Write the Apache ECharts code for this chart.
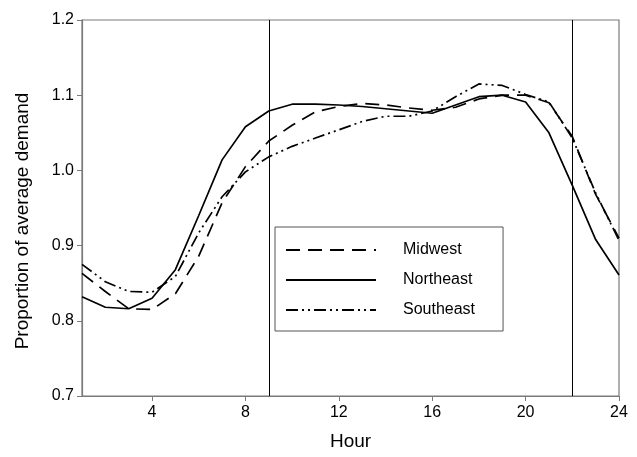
<!DOCTYPE html>
<html><head><meta charset="utf-8">
<script src="https://cdn.jsdelivr.net/npm/echarts@6/dist/echarts.min.js"></script>
<style>html,body{margin:0;padding:0;background:#fff}#c{width:637px;height:457px}</style>
</head><body><div id="c"></div>
<script>
const hours = [1,2,3,4,5,6,7,8,9,10,11,12,13,14,15,16,17,18,19,20,21,22,23,24];
const midwest = [0.863,0.839,0.816,0.815,0.836,0.886,0.957,1.005,1.039,1.060,1.078,1.085,1.089,1.087,1.083,1.080,1.084,1.095,1.100,1.100,1.090,1.045,0.968,0.910];
const northeast = [0.832,0.818,0.816,0.830,0.868,0.940,1.014,1.058,1.079,1.088,1.088,1.087,1.085,1.082,1.079,1.076,1.087,1.098,1.100,1.091,1.050,0.980,0.908,0.861];
const southeast = [0.875,0.852,0.839,0.838,0.859,0.917,0.965,0.998,1.018,1.032,1.043,1.054,1.065,1.072,1.072,1.079,1.098,1.115,1.113,1.101,1.091,1.043,0.970,0.907];
const xTicks = [4,8,12,16,20,24];
const dividers = [9,22];
const names = ['Midwest','Northeast','Southeast'];
const yTitle = 'Proportion of average demand';
const xTitle = 'Hour';

const pair = arr => hours.map((h,i)=>[h,arr[i]]);
const font = 'Liberation Sans, Arial, sans-serif';
const chart = echarts.init(document.getElementById('c'), null, {renderer:'canvas'});
chart.setOption({
  animation:false,
  backgroundColor:'#fff',
  grid:{left:82,right:18,top:20,bottom:61,show:true,borderColor:'#7a7a7a',borderWidth:1.2,
        containLabel:false,outerBoundsMode:'none'},
  legend:{
    data:names, orient:'vertical', left:275, top:227,
    padding:[15,28,13,10], itemGap:14, itemWidth:90, itemHeight:16,
    borderColor:'#555', borderWidth:1, backgroundColor:'#fff',
    itemStyle:{opacity:0},
    textStyle:{fontFamily:font,fontSize:16,color:'#000',padding:[0,0,0,22]}
  },
  graphic:[{type:'text',x:23,y:221,rotation:Math.PI/2,
    style:{text:yTitle,font:'19px '+font,fill:'#000',align:'center',verticalAlign:'middle'}}],
  xAxis:{
    type:'value', min:1, max:24, name:xTitle, nameLocation:'middle', nameGap:36,
    nameTextStyle:{fontFamily:font,fontSize:19,color:'#000'},
    axisLine:{lineStyle:{color:'#7a7a7a',width:1.2}},
    axisTick:{show:true,inside:false,length:5,customValues:xTicks,lineStyle:{color:'#7a7a7a'}},
    axisLabel:{customValues:xTicks,fontFamily:font,fontSize:16,color:'#000',margin:9},
    splitLine:{show:false}
  },
  yAxis:{
    type:'value', min:0.7, max:1.2, interval:0.1,
    axisLine:{show:true,lineStyle:{color:'#7a7a7a',width:1.2}},
    axisTick:{show:true,length:5,lineStyle:{color:'#7a7a7a'}},
    axisLabel:{fontFamily:font,fontSize:16,color:'#000',margin:8,formatter:v=>v.toFixed(1)},
    splitLine:{show:false}
  },
  series:[
    {name:names[0],type:'line',data:pair(midwest),symbol:'none',
     lineStyle:{color:'#000',width:1.7,type:[14,8]},itemStyle:{color:'#000'},z:3,
     markLine:{silent:true,symbol:'none',label:{show:false},
       lineStyle:{color:'#000',width:1,type:'solid'},
       data:dividers.map(d=>({xAxis:d}))}},
    {name:names[1],type:'line',data:pair(northeast),symbol:'none',
     lineStyle:{color:'#000',width:1.7,type:'solid'},itemStyle:{color:'#000'},z:3},
    {name:names[2],type:'line',data:pair(southeast),symbol:'none',
     lineStyle:{color:'#000',width:1.7,type:[12,4,2,4,2,4]},itemStyle:{color:'#000'},z:3}
  ]
});
</script></body></html>
